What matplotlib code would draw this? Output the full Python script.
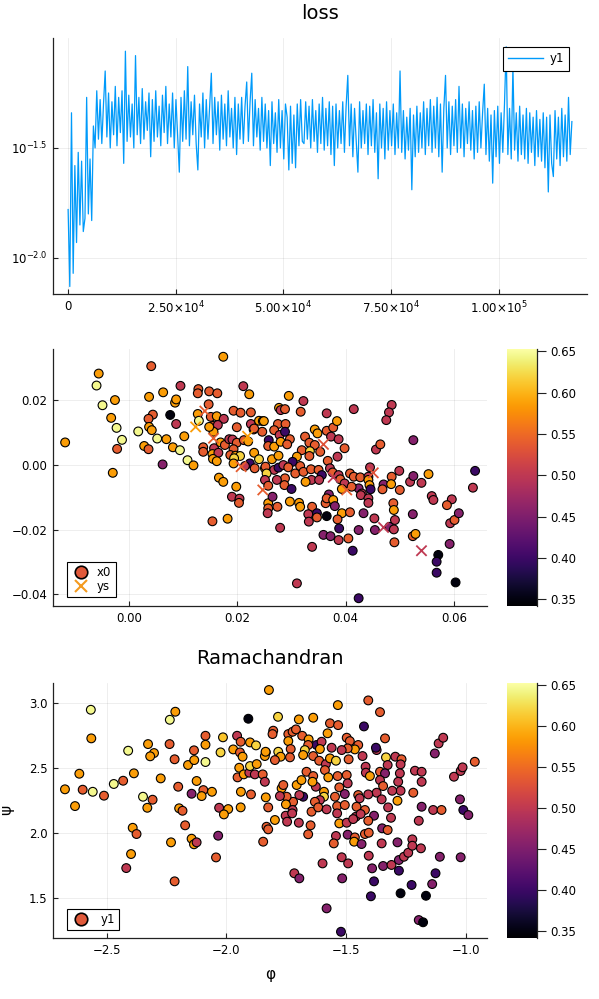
import numpy as np
import matplotlib
matplotlib.use("Agg")
import matplotlib.pyplot as plt
from matplotlib.lines import Line2D
from matplotlib.ticker import NullLocator

# ---------------- data ----------------
# loss curve (log10 of loss)
loss_log10 = [
    -1.78, -2.13, -1.34, -2.07, -1.58, -1.93, -1.52, -1.85, -1.56, -1.88,
    -1.82, -1.27, -1.80, -1.55, -1.83, -1.40, -1.50, -1.24, -1.46, -1.28,
    -1.48, -1.30, -1.15, -1.45, -1.25, -1.50, -1.29, -1.44, -1.22, -1.49,
    -1.27, -1.43, -1.24, -1.57, -1.06, -1.47, -1.26, -1.45, -1.30, -1.50,
    -1.08, -1.44, -1.27, -1.48, -1.23, -1.46, -1.29, -1.42, -1.25, -1.54,
    -1.28, -1.47, -1.24, -1.45, -1.31, -1.49, -1.26, -1.43, -1.22, -1.48,
    -1.30, -1.45, -1.25, -1.50, -1.28, -1.44, -1.61, -1.27, -1.47, -1.24,
    -1.46, -1.13, -1.49, -1.29, -1.44, -1.26, -1.48, -1.60, -1.30, -1.45,
    -1.25, -1.50, -1.28, -1.46, -1.31, -1.16, -1.48, -1.27, -1.44, -1.29,
    -1.51, -1.26, -1.46, -1.30, -1.49, -1.24, -1.45, -1.32, -1.50, -1.27,
    -1.53, -1.30, -1.46, -1.27, -1.48, -1.31, -1.20, -1.47, -1.29, -1.16,
    -1.49, -1.28, -1.45, -1.32, -1.51, -1.27, -1.47, -1.30, -1.50, -1.33,
    -1.58, -1.29, -1.48, -1.34, -1.52, -1.28, -1.50, -1.33, -1.55, -1.30,
    -1.36, -1.60, -1.31, -1.57, -1.35, -1.59, -1.30, -1.49, -1.28, -1.47,
    -1.48, -1.29, -1.46, -1.31, -1.50, -1.28, -1.47, -1.33, -1.52, -1.30,
    -1.48, -1.27, -1.51, -1.32, -1.49, -1.29, -1.53, -1.31, -1.58, -1.30,
    -1.50, -1.33, -1.48, -1.29, -1.52, -1.31, -1.17, -1.49, -1.30, -1.54,
    -1.32, -1.47, -1.61, -1.29, -1.50, -1.33, -1.48, -1.30, -1.53, -1.31,
    -1.49, -1.28, -1.52, -1.34, -1.64, -1.30, -1.50, -1.32, -1.55, -1.29,
    -1.51, -1.33, -1.49, -1.30, -1.53, -1.34, -1.50, -1.15, -1.52, -1.33,
    -1.55, -1.36, -1.51, -1.32, -1.69, -1.35, -1.54, -1.31, -1.52, -1.34,
    -1.50, -1.29, -1.53, -1.32, -1.49, -1.28, -1.52, -1.31, -1.50, -1.27,
    -1.54, -1.30, -1.61, -1.32, -1.17, -1.50, -1.29, -1.53, -1.31, -1.49,
    -1.28, -1.52, -1.22, -1.50, -1.30, -1.54, -1.32, -1.48, -1.29, -1.51,
    -1.33, -1.55, -1.31, -1.52, -1.29, -1.50, -1.34, -1.21, -1.53, -1.32,
    -1.56, -1.35, -1.66, -1.33, -1.54, -1.31, -1.57, -1.34, -1.52, -1.30,
    -1.04, -1.53, -1.32, -1.55, -1.13, -1.51, -1.34, -1.56, -1.31, -1.53,
    -1.35, -1.55, -1.32, -1.57, -1.34, -1.52, -1.36, -1.58, -1.33, -1.54,
    -1.37, -1.56, -1.34, -1.59, -1.36, -1.70, -1.35, -1.57, -1.63, -1.33,
    -1.55, -1.36, -1.58, -1.32, -1.54, -1.35, -1.56, -1.27, -1.53, -1.38,
]
last_iteration = 117000

# scatter 1: x0 series
x0_x = [
    -0.0118, -0.0056, -0.0060, -0.0049, -0.0026, -0.0033, -0.0023, -0.0013, -0.0022, -0.0030,
    0.0041, 0.0037, 0.0063, 0.0044, 0.0036, 0.0037, 0.0042, 0.0017, 0.0028, 0.0036,
    0.0052, 0.0069, 0.0081, 0.0094, 0.0102, 0.0062, 0.0108, 0.0119, 0.0076, 0.0087,
    0.0085, 0.0087, 0.0095, 0.0128, 0.0127, 0.0148, 0.0163, 0.0174, 0.0147, 0.0127,
    0.0129, 0.0151, 0.0162, 0.0175, 0.0155, 0.0164, 0.0156, 0.0148, 0.0137, 0.0137,
    0.0157, 0.0154, 0.0165, 0.0155, 0.0162, 0.0169, 0.0177, 0.0185, 0.0191, 0.0199,
    0.0193, 0.0187, 0.0197, 0.0205, 0.0194, 0.0193, 0.0212, 0.0220, 0.0211, 0.0222,
    0.0193, 0.0206, 0.0225, 0.0199, 0.0225, 0.0240, 0.0247, 0.0230, 0.0246, 0.0231,
    0.0223, 0.0240, 0.0214, 0.0232, 0.0258, 0.0166, 0.0174, 0.0198, 0.0190, 0.0204,
    0.0251, 0.0203, 0.0154, 0.0182, 0.0257, 0.0257, 0.0256,
    0.0295, 0.0322, 0.0277, 0.0280, 0.0288, 0.0317, 0.0365, 0.0415, 0.0485, 0.0480,
    0.0475, 0.0249, 0.0231, 0.0275, 0.0289, 0.0268, 0.0278, 0.0288, 0.0297, 0.0257,
    0.0268, 0.0280, 0.0292, 0.0325, 0.0343, 0.0348, 0.0365, 0.0377, 0.0384, 0.0373,
    0.0387, 0.0333, 0.0343, 0.0353, 0.0319, 0.0334, 0.0333, 0.0310, 0.0302, 0.0398,
    0.0385, 0.0367, 0.0264, 0.0276, 0.0252, 0.0268, 0.0276, 0.0285, 0.0294, 0.0307,
    0.0316, 0.0322, 0.0336, 0.0350, 0.0371, 0.0376, 0.0387, 0.0356, 0.0337, 0.0326,
    0.0351, 0.0288, 0.0287, 0.0300, 0.0273, 0.0254, 0.0251, 0.0257, 0.0408, 0.0415,
    0.0427, 0.0442, 0.0445, 0.0456, 0.0464, 0.0525, 0.0390, 0.0398, 0.0393, 0.0424,
    0.0430, 0.0442, 0.0444, 0.0446, 0.0470, 0.0468, 0.0485, 0.0484, 0.0499, 0.0500,
    0.0519, 0.0525, 0.0540, 0.0553, 0.0559, 0.0596, 0.0635, 0.0639, 0.0369, 0.0411,
    0.0265, 0.0274, 0.0297, 0.0314, 0.0316, 0.0279, 0.0310, 0.0338, 0.0331, 0.0332,
    0.0347, 0.0347, 0.0338, 0.0365, 0.0363, 0.0365, 0.0377, 0.0380, 0.0393, 0.0385,
    0.0388, 0.0359, 0.0372, 0.0387, 0.0405, 0.0408, 0.0413, 0.0424, 0.0424, 0.0428,
    0.0442, 0.0442, 0.0433, 0.0453, 0.0454, 0.0481, 0.0489, 0.0491, 0.0488, 0.0489,
    0.0490, 0.0524, 0.0524, 0.0529, 0.0562, 0.0571, 0.0568, 0.0568, 0.0587, 0.0593,
    0.0601, 0.0609, 0.0592, 0.0603,
]
x0_y = [
    0.0070, 0.0283, 0.0246, 0.0185, 0.0201, 0.0146, 0.0115, 0.0078, 0.0050, -0.0024,
    0.0306, 0.0211, 0.0225, 0.0156, 0.0143, 0.0118, 0.0108, 0.0104, 0.0059, 0.0049,
    0.0082, 0.0080, 0.0055, 0.0046, 0.0089, 0.0002, 0.0015, -0.0001, 0.0155, 0.0127,
    0.0193, 0.0203, 0.0245, 0.0235, 0.0222, 0.0228, 0.0222, 0.0335, 0.0188, 0.0158,
    0.0137, 0.0149, 0.0151, 0.0143, 0.0121, 0.0124, 0.0103, 0.0118, 0.0055, 0.0041,
    0.0052, 0.0034, 0.0038, 0.0019, 0.0012, 0.0070, 0.0062, 0.0080, 0.0079, 0.0069,
    0.0049, 0.0031, 0.0029, 0.0028, 0.0021, 0.0005, 0.0077, 0.0073, 0.0244, 0.0219,
    0.0168, 0.0162, 0.0163, 0.0117, 0.0127, 0.0137, 0.0136, 0.0110, 0.0103, 0.0038,
    0.0005, 0.0018, -0.0003, -0.0010, 0.0077, -0.0039, -0.0052, -0.0067, -0.0098, -0.0104,
    -0.0010, -0.0117, -0.0174, -0.0166, -0.0118, -0.0134, -0.0149,
    0.0214, 0.0198, 0.0177, 0.0170, 0.0173, 0.0165, 0.0160, 0.0173, 0.0186, 0.0163,
    0.0139, 0.0136, 0.0113, 0.0127, 0.0127, 0.0108, 0.0093, 0.0103, 0.0080, 0.0059,
    0.0057, 0.0072, 0.0064, 0.0088, 0.0110, 0.0098, 0.0106, 0.0116, 0.0136, 0.0088,
    0.0080, 0.0069, 0.0062, 0.0041, 0.0046, 0.0043, 0.0028, 0.0026, 0.0010, 0.0052,
    0.0026, 0.0013, 0.0018, 0.0029, -0.0005, -0.0015, -0.0008, 0.0000, -0.0007, -0.0026,
    -0.0003, -0.0021, -0.0013, -0.0015, -0.0010, -0.0023, -0.0031, -0.0031, -0.0046, -0.0052,
    -0.0046, -0.0041, -0.0062, -0.0074, -0.0046, -0.0026, -0.0046, -0.0064, -0.0026, -0.0036,
    -0.0038, -0.0036, -0.0007, 0.0048, 0.0064, 0.0077, -0.0044, -0.0057, -0.0074, -0.0072,
    -0.0088, -0.0046, -0.0062, -0.0075, -0.0060, -0.0075, -0.0036, -0.0059, -0.0018, -0.0077,
    -0.0052, -0.0034, -0.0055, -0.0028, -0.0096, -0.0106, -0.0070, -0.0018, -0.0091, -0.0067,
    -0.0098, -0.0129, -0.0113, -0.0117, -0.0129, -0.0194, -0.0366, -0.0129, -0.0152, -0.0175,
    -0.0149, -0.0162, -0.0253, -0.0158, -0.0118, -0.0103, -0.0108, -0.0127, -0.0149, -0.0168,
    -0.0196, -0.0216, -0.0220, -0.0232, -0.0227, -0.0146, -0.0265, -0.0201, -0.0412, -0.0093,
    -0.0103, -0.0117, -0.0149, -0.0165, -0.0201, -0.0191, -0.0199, -0.0170, -0.0118, -0.0139,
    -0.0239, -0.0152, -0.0220, -0.0213, -0.0108, -0.0278, -0.0299, -0.0333, -0.0124, -0.0180,
    -0.0170, -0.0149, -0.0244, -0.0363,
]
x0_z = [
    0.585, 0.585, 0.645, 0.645, 0.585, 0.585, 0.645, 0.645, 0.540, 0.585,
    0.540, 0.585, 0.585, 0.540, 0.540, 0.585, 0.585, 0.645, 0.585, 0.540,
    0.645, 0.585, 0.585, 0.645, 0.585, 0.455, 0.645, 0.585, 0.350, 0.500,
    0.585, 0.585, 0.500, 0.540, 0.540, 0.540, 0.540, 0.585, 0.540, 0.585,
    0.645, 0.540, 0.585, 0.500, 0.540, 0.500, 0.585, 0.585, 0.540, 0.540,
    0.500, 0.585, 0.500, 0.585, 0.585, 0.585, 0.540, 0.500, 0.500, 0.540,
    0.540, 0.540, 0.585, 0.620, 0.620, 0.585, 0.540, 0.585, 0.500, 0.585,
    0.540, 0.540, 0.540, 0.540, 0.500, 0.585, 0.585, 0.540, 0.540, 0.585,
    0.400, 0.620, 0.500, 0.540, 0.400, 0.585, 0.585, 0.585, 0.500, 0.500,
    0.585, 0.540, 0.540, 0.585, 0.585, 0.540, 0.500,
    0.585, 0.500, 0.585, 0.500, 0.540, 0.540, 0.500, 0.500, 0.500, 0.500,
    0.500, 0.585, 0.540, 0.540, 0.540, 0.540, 0.500, 0.400, 0.540, 0.540,
    0.585, 0.585, 0.540, 0.540, 0.585, 0.585, 0.540, 0.540, 0.585, 0.500,
    0.500, 0.540, 0.540, 0.540, 0.540, 0.620, 0.540, 0.585, 0.400, 0.540,
    0.500, 0.540, 0.585, 0.585, 0.540, 0.500, 0.400, 0.500, 0.540, 0.540,
    0.540, 0.540, 0.540, 0.540, 0.500, 0.540, 0.500, 0.400, 0.500, 0.585,
    0.500, 0.540, 0.540, 0.400, 0.500, 0.620, 0.500, 0.540, 0.540, 0.540,
    0.540, 0.500, 0.500, 0.500, 0.540, 0.455, 0.540, 0.500, 0.585, 0.455,
    0.500, 0.585, 0.585, 0.400, 0.455, 0.540, 0.540, 0.585, 0.500, 0.540,
    0.500, 0.455, 0.500, 0.585, 0.500, 0.500, 0.500, 0.400, 0.455, 0.540,
    0.455, 0.540, 0.585, 0.585, 0.585, 0.500, 0.500, 0.540, 0.500, 0.500,
    0.400, 0.540, 0.500, 0.350, 0.540, 0.540, 0.585, 0.455, 0.585, 0.540,
    0.400, 0.455, 0.455, 0.500, 0.540, 0.540, 0.400, 0.455, 0.400, 0.500,
    0.500, 0.500, 0.455, 0.500, 0.455, 0.455, 0.500, 0.500, 0.540, 0.585,
    0.540, 0.455, 0.540, 0.585, 0.500, 0.350, 0.400, 0.400, 0.540, 0.500,
    0.540, 0.455, 0.455, 0.350,
]

# scatter 1: ys series (crosses)
ys_x = [0.0123, 0.0140, 0.0156, 0.0219, 0.0207, 0.0247, 0.0359, 0.0377, 0.0451, 0.0402, 0.0470, 0.0540]
ys_y = [0.0118, 0.0167, 0.0083, 0.0089, -0.0005, -0.0077, 0.0064, -0.0038, -0.0024, -0.0077, -0.0193, -0.0265]
ys_z = [0.585, 0.540, 0.540, 0.585, 0.540, 0.540, 0.530, 0.500, 0.530, 0.540, 0.500, 0.500]

# Ramachandran scatter
phi = [
    -2.566, -2.564, -2.614, -2.674, -2.600, -2.558, -2.511, -2.632, -2.470, -2.431,
    -2.386, -2.410, -2.348, -2.308, -2.330, -2.327, -2.302, -2.318, -2.274, -2.236,
    -2.213, -2.237, -2.216, -2.201, -2.197, -2.160, -2.134, -2.135, -2.087, -2.087,
    -2.087, -2.124, -2.096, -2.060, -2.103, -2.145, -2.030, -1.992, -2.014, -2.024,
    -1.971, -1.955, -1.940, -1.943, -1.932, -1.946, -1.953, -1.927, -1.904, -1.881,
    -1.848, -1.901, -1.873, -1.901, -1.876, -1.835, -1.839, -1.908, -1.822, -1.939,
    -1.897, -1.940, -1.839, -1.835,
    -2.391, -2.375, -2.398, -2.418, -2.216, -2.231, -2.183, -2.172, -2.145, -2.135,
    -2.124, -2.043, -2.034, -2.010, -1.846, -1.832, -1.825,
    -1.784, -1.697, -1.637, -1.534, -1.407, -1.358, -1.425, -1.567, -1.533, -1.804,
    -1.807, -1.741, -1.723, -1.709, -1.683, -1.741, -1.656, -1.623, -1.602, -1.577,
    -1.497, -1.484, -1.449, -1.463, -1.493, -1.518, -1.560, -1.609, -1.658, -1.672,
    -1.731, -1.783, -1.836, -1.773, -1.734, -1.797, -1.679, -1.637, -1.612, -1.584,
    -1.567, -1.542, -1.489, -1.431, -1.372, -1.375, -1.337, -1.333, -1.294, -1.268,
    -1.272, -1.326, -1.418, -1.417, -1.400, -1.358, -1.337, -1.358, -1.345, -1.372,
    -1.275, -1.282, -1.272, -1.307, -1.285, -1.324, -1.351, -1.212, -1.184, -1.184,
    -1.219, -1.129, -1.113, -1.094, -1.049, -1.021, -1.013, -0.962, -1.024, -1.184,
    -1.136, -1.101, -1.010, -0.989, -1.769, -1.762, -1.706, -1.686, -1.665, -1.637,
    -1.626, -1.640, -1.588, -1.574, -1.535, -1.497, -1.493, -1.528, -1.592, -1.592,
    -1.505, -1.546, -1.609, -1.630, -1.679, -1.695, -1.721, -1.748, -1.776, -1.751,
    -1.723, -1.752, -1.644, -1.616, -1.581, -1.537, -1.505, -1.537, -1.449, -1.443,
    -1.407, -1.456, -1.421, -1.383, -1.459, -1.312,
    -1.825, -1.797, -1.746, -1.725, -1.697, -1.648, -1.658, -1.598, -1.716, -1.695,
    -1.581, -1.521, -1.542, -1.551, -1.528, -1.497, -1.518, -1.516, -1.491, -1.493,
    -1.463, -1.466, -1.435, -1.421, -1.405, -1.470, -1.439, -1.407, -1.405, -1.391,
    -1.383, -1.396, -1.351, -1.349, -1.326, -1.345, -1.310, -1.285, -1.279, -1.258,
    -1.240, -1.279, -1.272, -1.223, -1.223, -1.226, -1.187, -1.196, -1.166, -1.140,
    -1.126, -1.108, -1.196, -1.178, -1.021,
]
psi = [
    2.946, 2.726, 2.454, 2.334, 2.331, 2.315, 2.285, 2.205, 2.375, 2.400,
    2.457, 2.631, 2.277, 2.254, 2.192, 2.682, 2.613, 2.588, 2.418, 2.869,
    2.931, 2.682, 2.565, 2.354, 2.188, 2.521, 2.559, 2.634, 2.746, 2.677,
    2.544, 2.398, 2.328, 2.315, 2.282, 2.300, 2.192, 2.182, 2.734, 2.618,
    2.641, 2.746, 2.700, 2.618, 2.585, 2.500, 2.426, 2.449, 2.462, 2.449,
    2.449, 2.513, 2.528, 2.695, 2.672, 2.618, 2.590, 2.877, 3.098, 2.315,
    2.295, 2.195, 2.392, 2.272,
    2.038, 1.990, 1.836, 1.728, 1.626, 1.926, 2.169, 2.057, 1.954, 1.911,
    1.926, 1.810, 1.977, 2.141, 1.931, 2.046, 2.195,
    2.892, 2.872, 2.885, 2.982, 3.018, 2.928, 2.818, 2.842, 2.828, 2.785,
    2.759, 2.759, 2.777, 2.795, 2.746, 2.705, 2.718, 2.675, 2.700, 2.765,
    2.731, 2.705, 2.675, 2.641, 2.649, 2.636, 2.654, 2.644, 2.675, 2.636,
    2.644, 2.623, 2.623, 2.585, 2.580, 2.559, 2.598, 2.590, 2.554, 2.528,
    2.572, 2.554, 2.565, 2.590, 2.636, 2.654, 2.726, 2.580, 2.585, 2.565,
    2.526, 2.521, 2.508, 2.462, 2.436, 2.469, 2.457, 2.405, 2.359, 2.308,
    2.457, 2.392, 2.323, 2.323, 2.246, 2.195, 2.257, 2.477, 2.469, 2.392,
    2.308, 2.610, 2.687, 2.731, 2.431, 2.475, 2.503, 2.546, 2.257, 2.200,
    2.175, 2.175, 2.175, 2.136, 2.341, 2.367, 2.367, 2.405, 2.469, 2.436,
    2.354, 2.392, 2.482, 2.426, 2.436, 2.444, 2.380, 2.349, 2.315, 2.277,
    2.298, 2.277, 2.251, 2.238, 2.277, 2.290, 2.238, 2.277, 2.282, 2.218,
    2.175, 2.131, 2.162, 2.195, 2.180, 2.205, 2.213, 2.149, 2.290, 2.265,
    2.295, 2.200, 2.175, 2.131, 2.123, 2.115,
    2.026, 2.098, 2.085, 2.149, 2.077, 2.057, 1.988, 1.764, 1.688, 1.649,
    1.418, 1.238, 1.975, 1.918, 2.072, 2.077, 1.811, 1.649, 1.764, 1.985,
    1.964, 1.931, 1.913, 1.990, 2.000, 2.105, 2.144, 2.092, 1.823, 1.726,
    1.626, 1.511, 1.918, 2.034, 2.021, 1.744, 1.752, 1.926, 1.790, 1.815,
    1.846, 1.708, 1.534, 1.949, 1.900, 1.598, 1.880, 2.092, 1.515, 1.605,
    1.688, 1.815, 1.328, 1.311, 1.811,
]
rama_z = [
    0.645, 0.585, 0.585, 0.585, 0.540, 0.645, 0.540, 0.585, 0.645, 0.540,
    0.585, 0.645, 0.645, 0.540, 0.585, 0.585, 0.585, 0.585, 0.585, 0.645,
    0.585, 0.540, 0.540, 0.540, 0.585, 0.585, 0.585, 0.540, 0.540, 0.585,
    0.645, 0.585, 0.540, 0.585, 0.585, 0.455, 0.500, 0.585, 0.610, 0.620,
    0.585, 0.500, 0.540, 0.540, 0.585, 0.585, 0.540, 0.585, 0.500, 0.500,
    0.540, 0.620, 0.585, 0.585, 0.620, 0.585, 0.585, 0.350, 0.585, 0.585,
    0.540, 0.585, 0.500, 0.585,
    0.585, 0.540, 0.585, 0.500, 0.540, 0.585, 0.540, 0.540, 0.585, 0.585,
    0.500, 0.540, 0.455, 0.585, 0.540, 0.540, 0.540,
    0.620, 0.585, 0.585, 0.585, 0.540, 0.540, 0.400, 0.540, 0.540, 0.540,
    0.540, 0.540, 0.540, 0.540, 0.540, 0.585, 0.585, 0.400, 0.500, 0.585,
    0.540, 0.540, 0.540, 0.585, 0.540, 0.500, 0.500, 0.585, 0.540, 0.620,
    0.540, 0.620, 0.585, 0.585, 0.540, 0.540, 0.585, 0.540, 0.540, 0.500,
    0.585, 0.620, 0.540, 0.500, 0.500, 0.400, 0.540, 0.620, 0.500, 0.540,
    0.500, 0.500, 0.500, 0.500, 0.585, 0.540, 0.455, 0.500, 0.540, 0.500,
    0.500, 0.500, 0.500, 0.500, 0.585, 0.500, 0.500, 0.500, 0.500, 0.500,
    0.540, 0.455, 0.500, 0.500, 0.500, 0.500, 0.500, 0.540, 0.455, 0.455,
    0.500, 0.540, 0.400, 0.455, 0.585, 0.540, 0.585, 0.585, 0.540, 0.540,
    0.500, 0.585, 0.540, 0.585, 0.540, 0.540, 0.500, 0.540, 0.585, 0.620,
    0.455, 0.540, 0.500, 0.540, 0.400, 0.500, 0.540, 0.540, 0.500, 0.585,
    0.500, 0.500, 0.540, 0.540, 0.500, 0.540, 0.540, 0.500, 0.540, 0.500,
    0.500, 0.540, 0.540, 0.455, 0.500, 0.500,
    0.540, 0.585, 0.500, 0.500, 0.500, 0.540, 0.540, 0.500, 0.500, 0.455,
    0.455, 0.400, 0.500, 0.540, 0.585, 0.500, 0.500, 0.455, 0.500, 0.455,
    0.540, 0.585, 0.455, 0.540, 0.540, 0.500, 0.500, 0.540, 0.500, 0.455,
    0.400, 0.400, 0.500, 0.455, 0.540, 0.455, 0.500, 0.455, 0.455, 0.500,
    0.500, 0.400, 0.350, 0.500, 0.500, 0.400, 0.500, 0.500, 0.350, 0.455,
    0.400, 0.455, 0.455, 0.350, 0.455,
]

color_range = (0.342, 0.653)
cbar_ticks = [0.35, 0.40, 0.45, 0.50, 0.55, 0.60, 0.65]

# ---------------- figure ----------------
W, H = 599, 999
fig = plt.figure(figsize=(W / 100, H / 100), dpi=100)
plt.rcParams['font.family'] = ['DejaVu Sans']


def ax_px(l, t, r, b):
    return fig.add_axes([l / W, 1 - b / H, (r - l) / W, (b - t) / H])


def style(ax):
    for s in ('top', 'right'):
        ax.spines[s].set_visible(False)
    for s in ('left', 'bottom'):
        ax.spines[s].set_color('#222222')
        ax.spines[s].set_linewidth(0.9)
    ax.tick_params(direction='in', length=3.5, width=0.8, labelsize=8.5,
                   color='#222222', pad=4)
    ax.grid(True, color='black', alpha=0.08, linewidth=0.6)
    ax.set_axisbelow(True)


def colorbar(sc, l, t, r, b):
    cax = ax_px(l, t, r, b)
    cb = fig.colorbar(sc, cax=cax)
    cb.outline.set_visible(False)
    cb.set_ticks(cbar_ticks)
    cb.set_ticklabels([f"{v:.2f}" for v in cbar_ticks])
    cax.tick_params(direction='out', length=6.5, width=0.8, labelsize=8.5,
                    color='#222222', pad=3)
    cax.plot([1, 1], [0, 1], transform=cax.transAxes, color='#222222',
             lw=0.9, clip_on=False)
    return cb


def legend(ax, handles, **kw):
    lg = ax.legend(handles=handles, loc=kw.pop('loc'),
                   bbox_to_anchor=kw.pop('anchor'), bbox_transform=fig.transFigure,
                   borderaxespad=0, fontsize=8.5, fancybox=False, framealpha=1,
                   edgecolor='black', **kw)
    lg.get_frame().set_linewidth(0.8)
    return lg


# ---- plot 1: loss ----
ax1 = ax_px(53, 38, 587, 294)
style(ax1)
iterations = np.linspace(1, last_iteration, len(loss_log10))
ax1.plot(iterations, np.power(10.0, loss_log10), color='#009AFA', lw=0.9)
ax1.set_yscale('log')
ax1.set_xlim(-3510, 120510)
ax1.set_ylim(10 ** -2.164, 10 ** -1.0)
ax1.yaxis.set_minor_locator(NullLocator())
ax1.set_yticks([10 ** -2.0, 10 ** -1.5])
ax1.set_yticklabels([r'$10^{-2.0}$', r'$10^{-1.5}$'])
ax1.yaxis.set_minor_locator(NullLocator())
ax1.set_xticks([0, 25000, 50000, 75000, 100000])
ax1.set_xticklabels(['0', r'$2.50{\times}10^{4}$', r'$5.00{\times}10^{4}$',
                     r'$7.50{\times}10^{4}$', r'$1.00{\times}10^{5}$'])
ax1.set_title('loss', fontsize=14, pad=14)
legend(ax1, [Line2D([], [], color='#009AFA', lw=1.0, label='y1')],
       loc='upper right', anchor=(569 / W, 1 - 47 / H),
       handlelength=3.0, handletextpad=0.5, borderpad=0.45)

# ---- plot 2: x0 / ys ----
ax2 = ax_px(53, 349, 487, 606)
style(ax2)
sc2 = ax2.scatter(x0_x, x0_y, c=x0_z, cmap='inferno', vmin=color_range[0],
                  vmax=color_range[1], s=40, edgecolors='black', linewidths=0.8,
                  zorder=3)
ax2.scatter(ys_x, ys_y, c=ys_z, cmap='inferno', vmin=color_range[0],
            vmax=color_range[1], s=55, marker='x', linewidths=1.3, zorder=4)
ax2.set_xlim(-0.01404, 0.0661)
ax2.set_ylim(-0.0436, 0.0359)
ax2.set_xticks([0.0, 0.02, 0.04, 0.06])
ax2.set_xticklabels(['0.00', '0.02', '0.04', '0.06'])
ax2.set_yticks([-0.04, -0.02, 0.0, 0.02])
ax2.set_yticklabels(['\u22120.04', '\u22120.02', '0.00', '0.02'])
colorbar(sc2, 507, 349, 537, 606)
h_x0 = Line2D([], [], ls='', marker='o', markerfacecolor='#E0593A',
              markeredgecolor='black', markersize=9, markeredgewidth=1.2, label='x0')
h_ys = Line2D([], [], ls='', marker='x', color='#F49A1E', markersize=9,
              markeredgewidth=1.5, label='ys')
legend(ax2, [h_x0, h_ys], loc='lower left',
       anchor=(67 / W, 1 - 597 / H), handlelength=1.6, handletextpad=0.6,
       borderpad=0.35, labelspacing=0.1)

# ---- plot 3: Ramachandran ----
ax3 = ax_px(53, 683, 487, 938)
style(ax3)
sc3 = ax3.scatter(phi, psi, c=rama_z, cmap='inferno', vmin=color_range[0],
                  vmax=color_range[1], s=40, edgecolors='black', linewidths=0.8,
                  zorder=3)
ax3.set_xlim(-2.724, -0.911)
ax3.set_ylim(1.19, 3.152)
ax3.set_xticks([-2.5, -2.0, -1.5, -1.0])
ax3.set_xticklabels(['\u22122.5', '\u22122.0', '\u22121.5', '\u22121.0'])
ax3.set_yticks([1.5, 2.0, 2.5, 3.0])
ax3.set_yticklabels(['1.5', '2.0', '2.5', '3.0'])
ax3.set_title('Ramachandran', fontsize=14, pad=14)
colorbar(sc3, 507, 683, 537, 938)
h_y1 = Line2D([], [], ls='', marker='o', markerfacecolor='#E0593A',
              markeredgecolor='black', markersize=9, markeredgewidth=1.2, label='y1')
legend(ax3, [h_y1], loc='lower left',
       anchor=(67 / W, 1 - 930 / H), handlelength=1.6, handletextpad=0.9,
       borderpad=0.35)
fig.text(270 / W, 1 - 975 / H, 'φ', ha='center', va='center', fontsize=11)
fig.text(7 / W, 1 - 810 / H, 'ψ', ha='center', va='center', fontsize=11,
         rotation=90)

fig.savefig('out.png', dpi=100)
